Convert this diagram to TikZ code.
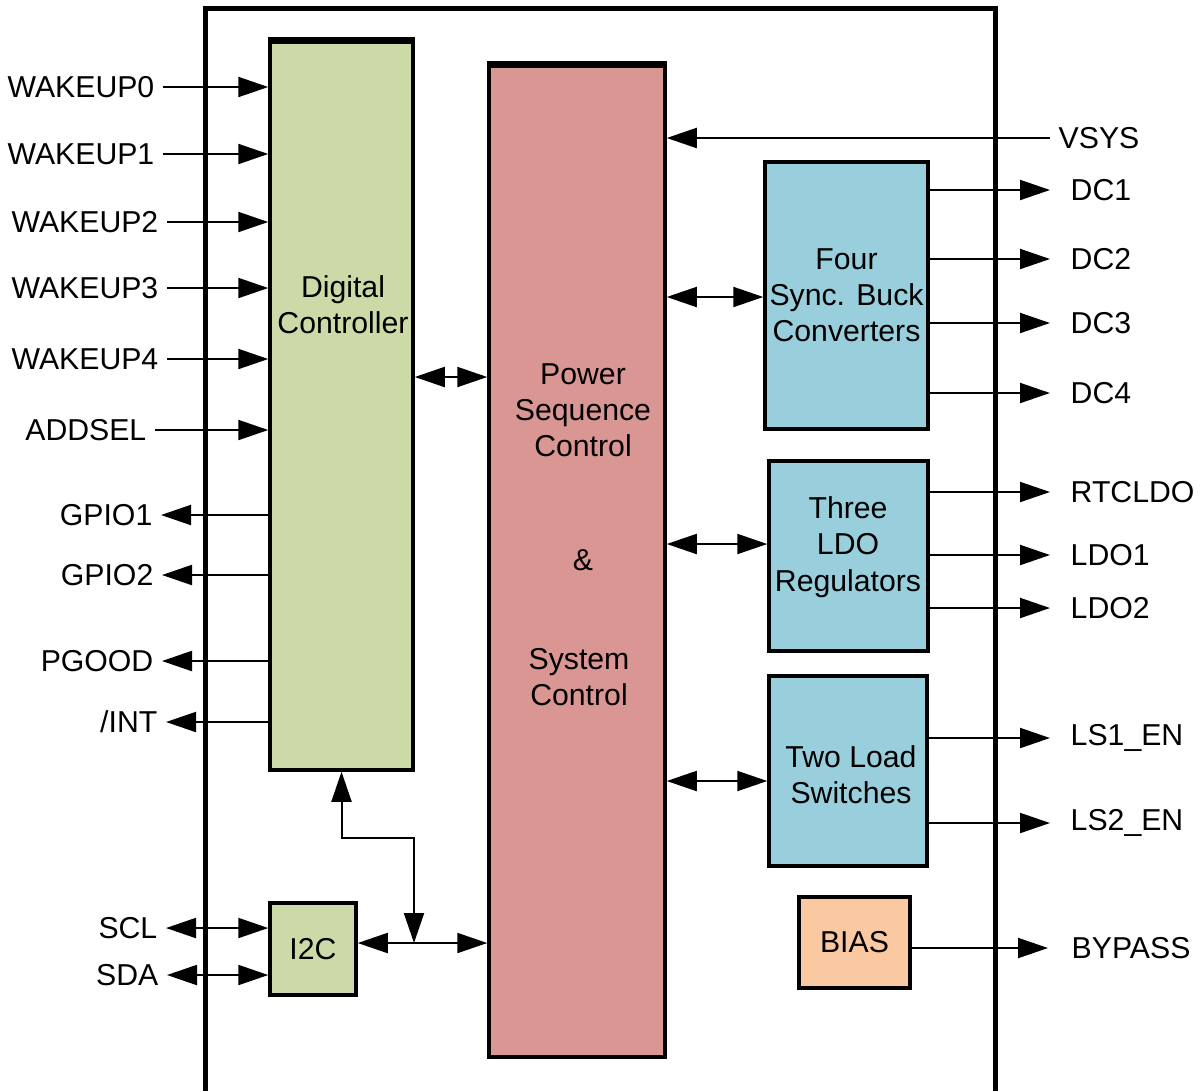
\documentclass[tikz,border=0pt]{standalone}
\usepackage{fontspec}
\setmainfont{Liberation Sans}
\usetikzlibrary{arrows.meta,positioning}
\definecolor{ctrlgreen}{RGB}{204,218,168}
\definecolor{seqpink}{RGB}{218,150,147}
\definecolor{regblue}{RGB}{153,207,221}
\definecolor{biasorange}{RGB}{250,201,162}
\tikzset{
  block/.style={draw, line width=0.35mm, inner sep=0pt, align=center},
  pinin/.style={inner sep=0.8mm, anchor=east},
  pinout/.style={inner sep=2mm, anchor=west},
  sig/.style={line width=0.2mm, -{Triangle[length=3mm,width=2mm]}},
  bus/.style={line width=0.2mm, {Triangle[length=3mm,width=2mm]}-{Triangle[length=3mm,width=2mm]}},
}
\begin{document}
\begin{tikzpicture}[x=0.1mm, y=-0.1mm, font=\fontsize{8.6}{10.3}\selectfont]
  \useasboundingbox (0,0) rectangle (1201,1090);
  % chip outline
  \draw [line width=0.5mm] (205,1095) -- (205,8) -- (995,8) -- (995,1095);

  % blocks
  \node [block, fill=ctrlgreen, minimum width=14.3mm, minimum height=72.8mm] (dc) at (341.5,406) {};
  \node [block, fill=seqpink, minimum width=17.6mm, minimum height=99.1mm] (ps) at (577,561.5) {};
  \node [block, fill=regblue, minimum width=16.3mm, minimum height=26.7mm] (buck) at (846.5,295.5) {Four\\Sync. Buck\\Converters};
  \node [block, fill=regblue, minimum width=15.9mm, minimum height=19mm] (ldo) at (848.5,556) {};
  \node [block, fill=regblue, minimum width=15.8mm, minimum height=19mm] (lsw) at (848,771) {};
  \node [block, fill=biasorange, minimum width=11.1mm, minimum height=9.1mm] (bias) at (854.5,942.5) {BIAS};
  \node [block, fill=ctrlgreen, minimum width=8.6mm, minimum height=9.2mm] (i2c) at (313,949) {I2C};
  \draw [line width=0.6mm] (dc.north west) -- (dc.north east);
  \draw [line width=0.6mm] (ps.north west) -- (ps.north east);

  % block texts
  \node [align=center] (dctext) at (343,305) {Digital\\Controller};
  \node [align=center] (pstop) at (583,410) {Power\\Sequence\\Control};
  \node (psamp) at (583,560) {\&};
  \node [align=center] (psbot) at (579,677) {System\\Control};
  \node [align=center] (ldotext) at (848,547) {Three\\LDO\\Regulators};
  \node [align=center] (lswtext) at (851,775) {Two Load\\Switches};

  % inputs to the controller
  \foreach \name/\y/\x [count=\i] in {WAKEUP0/87/163, WAKEUP1/154/163, WAKEUP2/222/167,
      WAKEUP3/288/167, WAKEUP4/359/167, ADDSEL/430/155} {
    \node [pinin] (in\i) at (\x,\y) {\name};
    \draw [sig] (in\i.east) -- (in\i.east -| dc.west);
  }
  % outputs of the controller
  \foreach \name/\y/\x [count=\i] in {GPIO1/515/161, GPIO2/575/162, PGOOD/661/162} {
    \node [pinin] (out\i) at (\x,\y) {\name};
    \draw [sig] (out\i.east -| dc.west) -- (out\i.east);
  }
  \node [pinin] (int) at (166,722) {/INT};
  \draw [sig] (int.east -| dc.west) -- (int.east);

  % I2C pins
  \node [pinin] (scl) at (166,928) {SCL};
  \node [pinin] (sda) at (167,975) {SDA};
  \draw [bus] (scl.east) -- (scl.east -| i2c.west);
  \draw [bus] (sda.east) -- (sda.east -| i2c.west);

  % internal buses
  \coordinate (jn) at (414,943);
  \draw [bus] (i2c.east |- jn) -- (ps.west |- jn);
  \draw [bus] (jn) |- (dc.south |- 0,838) -- (dc.south);
  \draw [bus] (dc.east |- 0,377) -- (ps.west |- 0,377);
  \draw [bus] (ps.east |- 0,297) -- (buck.west |- 0,297);
  \draw [bus] (ps.east |- 0,544) -- (ldo.west |- 0,544);
  \draw [bus] (ps.east |- 0,781) -- (lsw.west |- 0,781);

  % supply input
  \node [inner sep=0.8mm, anchor=west] (vsys) at (1050,138) {VSYS};
  \draw [sig] (vsys.west) -- (vsys.west -| ps.east);

  % regulator outputs
  \foreach \name/\y/\blk [count=\i] in {DC1/190/buck, DC2/259/buck, DC3/323/buck, DC4/393/buck,
      RTCLDO/492/ldo, LDO1/555/ldo, LDO2/608/ldo, LS1\_EN/738/lsw, LS2\_EN/823/lsw} {
    \node [pinout] (reg\i) at (1050,\y) {\name};
    \draw [sig] (reg\i.west -| \blk.east) -- (reg\i.west);
  }
  \node [pinout, inner sep=2.3mm] (bypass) at (1048,948) {BYPASS};
  \draw [sig] (bypass.west -| bias.east) -- (bypass.west);
\end{tikzpicture}
\end{document}
